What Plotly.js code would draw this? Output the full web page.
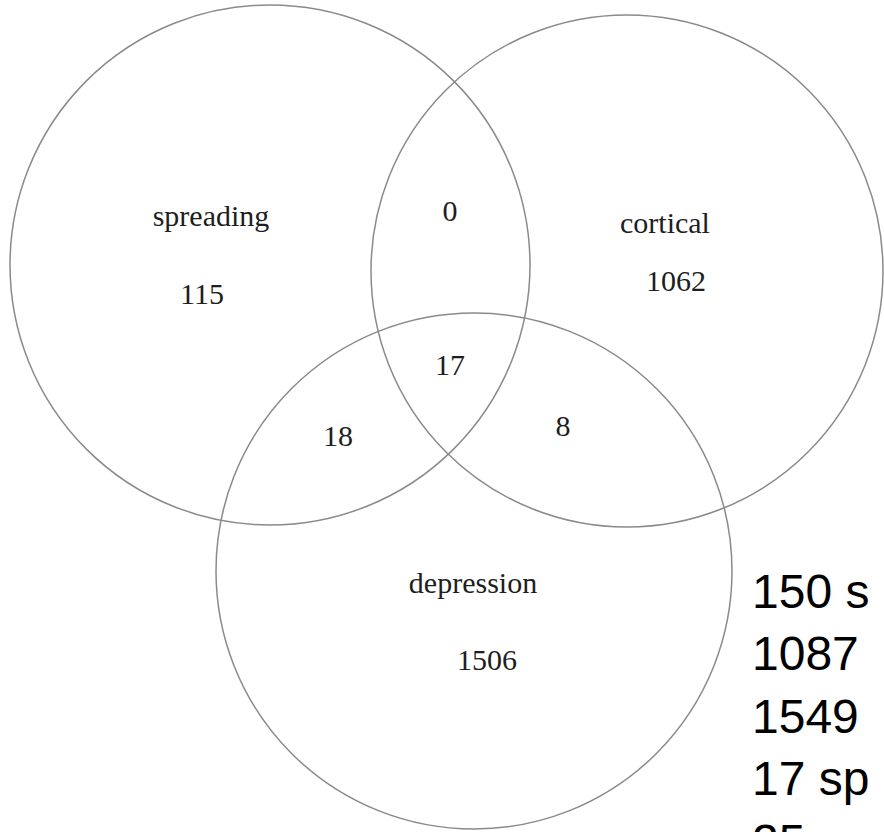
<!DOCTYPE html>
<html>
<head>
<meta charset="utf-8">
<script src="https://cdn.plot.ly/plotly-3.0.1.min.js"></script>
<style>html,body{margin:0;padding:0;background:#fff;overflow:hidden}#chart{width:884px;height:832px}</style>
</head>
<body>
<div id="chart"></div>
<script>
// ---- data ----
const setNames = ['spreading', 'cortical', 'depression'];
const regionNames = ['spreading only', 'cortical only', 'depression only',
  'spreading & cortical', 'spreading & depression', 'cortical & depression', 'all three'];
const regionCounts = [115, 1062, 1506, 0, 18, 8, 17];
const summaryValues = ['150', '1087', '1549', '17', '25'];
const summaryWords = ['s', '', '', 'sp', ''];

// ---- layout (geometry in pixel units of the 884x832 canvas) ----
const circles = [
  {cx: 270, cy: 265, r: 260},   // spreading
  {cx: 627, cy: 271, r: 256},   // cortical
  {cx: 474, cy: 571, r: 258}    // depression
];
const setLabelPos = [[211, 218], [665, 225], [473, 585]];
const regionPos = [[202, 296], [676, 283], [487, 662], [450, 213], [338, 438], [563, 428], [450, 367]];

const serif = 'Liberation Serif, Times New Roman, serif';
const textColor = '#1e1e1e';

const traces = [
  {
    type: 'scatter', mode: 'text',
    x: setLabelPos.map(p => p[0]), y: setLabelPos.map(p => p[1]),
    text: setNames, textposition: 'middle center',
    textfont: {family: serif, size: 30, color: textColor},
    hoverinfo: 'skip', showlegend: false
  },
  {
    type: 'scatter', mode: 'text',
    x: regionPos.map(p => p[0]), y: regionPos.map(p => p[1]),
    text: regionCounts.map(String), customdata: regionNames,
    textposition: 'middle center',
    textfont: {family: serif, size: 30, color: textColor},
    hovertemplate: '%{customdata}: %{text}<extra></extra>', showlegend: false
  }
];

const shapes = circles.map(c => ({
  type: 'circle', xref: 'x', yref: 'y',
  x0: c.cx - c.r, x1: c.cx + c.r, y0: c.cy - c.r, y1: c.cy + c.r,
  line: {color: '#8a8a8a', width: 1.5}, fillcolor: 'rgba(0,0,0,0)', layer: 'below'
}));

const summaryText = summaryValues.map((v, i) => summaryWords[i] ? v + ' ' + summaryWords[i] : v).join('<br>');

const layout = {
  width: 884, height: 832,
  margin: {l: 0, r: 0, t: 0, b: 0},
  paper_bgcolor: '#ffffff', plot_bgcolor: '#ffffff',
  xaxis: {range: [0, 884], visible: false, fixedrange: true},
  yaxis: {range: [832, 0], visible: false, fixedrange: true},
  shapes: shapes,
  annotations: [{
    xref: 'x', yref: 'y', x: 750, y: 563, xanchor: 'left', yanchor: 'top',
    align: 'left', showarrow: false, text: summaryText,
    font: {family: 'Liberation Sans, Arial, sans-serif', size: 48, color: '#000'}
  }]
};

Plotly.newPlot('chart', traces, layout, {displayModeBar: false, staticPlot: true});
</script>
</body>
</html>
